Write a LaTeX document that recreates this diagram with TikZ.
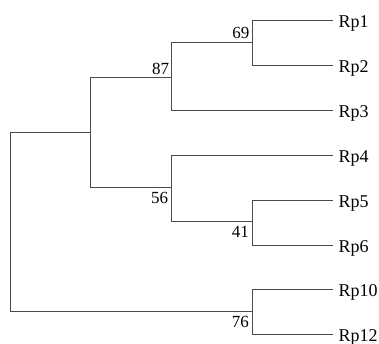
\documentclass[tikz,border=0pt]{standalone}
\usepackage{fontspec}
\setmainfont{Liberation Serif}
\begin{document}
\begin{tikzpicture}[x=1pt,y=-1pt,
  branch/.style={draw=black!70, line width=0.9pt},
  leaf/.style={anchor=base west, inner sep=0pt, xshift=5.5pt, yshift=-7.5pt, font=\fontsize{18}{20}\selectfont},
  boot/.style={inner sep=0pt, font=\fontsize{17}{18}\selectfont}]
\useasboundingbox (0,0) rectangle (379,344);
% leaf tips
\coordinate (t1) at (333,20);
\coordinate (t2) at (333,65);
\coordinate (t3) at (333,110);
\coordinate (t4) at (333,155);
\coordinate (t5) at (333,200);
\coordinate (t6) at (333,245);
\coordinate (t10) at (333,289);
\coordinate (t12) at (333,334);
% internal nodes
\coordinate (n69) at (252,42);
\coordinate (n87) at (171.7,77.3);
\coordinate (n41) at (252,221.5);
\coordinate (n56) at (171.7,187.3);
\coordinate (nA) at (90.7,132.7);
\coordinate (n76) at (252,311.5);
\coordinate (root) at (10.7,222);
% leaf labels
\node[leaf] (rp1) at (t1) {Rp1};
\node[leaf] (rp2) at (t2) {Rp2};
\node[leaf] (rp3) at (t3) {Rp3};
\node[leaf] (rp4) at (t4) {Rp4};
\node[leaf] (rp5) at (t5) {Rp5};
\node[leaf] (rp6) at (t6) {Rp6};
\node[leaf] (rp10) at (t10) {Rp10};
\node[leaf] (rp12) at (t12) {Rp12};
% branches
\draw[branch] (n69) |- (t1);
\draw[branch] (n69) |- (t2);
\draw[branch] (n87) |- (n69);
\draw[branch] (n87) |- (t3);
\draw[branch] (n41) |- (t5);
\draw[branch] (n41) |- (t6);
\draw[branch] (n56) |- (t4);
\draw[branch] (n56) |- (n41);
\draw[branch] (nA) |- (n87);
\draw[branch] (nA) |- (n56);
\draw[branch] (n76) |- (t10);
\draw[branch] (n76) |- (t12);
\draw[branch] (root) |- (nA);
\draw[branch] (root) |- (n76);
% bootstrap values
\node[boot, anchor=south east] (b69) at ([xshift=-2.5pt, yshift=2.7pt]n69) {69};
\node[boot, anchor=south east] (b87) at ([xshift=-2.5pt, yshift=2.3pt]n87) {87};
\node[boot, anchor=north east] (b56) at ([xshift=-3.5pt, yshift=-4.5pt]n56) {56};
\node[boot, anchor=north east] (b41) at ([xshift=-3pt, yshift=-4.5pt]n41) {41};
\node[boot, anchor=north east] (b76) at ([xshift=-3pt, yshift=-4.5pt]n76) {76};
\end{tikzpicture}
\end{document}
